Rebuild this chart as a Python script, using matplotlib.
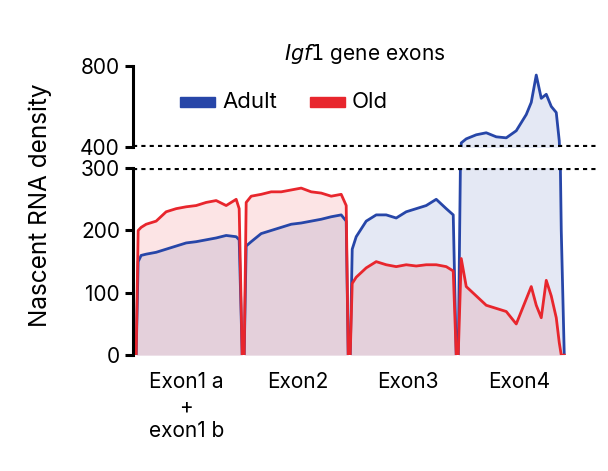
import numpy as np
import matplotlib.pyplot as plt

plt.rcParams["font.family"] = "Inter"

# positions along the gene (arbitrary bp-like units)
pos = [0, 2, 5, 10, 20, 30, 40, 50, 60, 70, 80, 90, 100, 103, 106,
       108, 110, 115, 125, 135, 145, 155, 165, 175, 185, 195, 205, 210, 212,
       214, 216, 220, 230, 240, 250, 260, 270, 280, 290, 300, 310, 317, 320,
       322, 325, 330, 340, 350, 360, 370, 380, 390, 395, 400, 405, 410, 415, 420, 423, 425, 428]
adult = [0, 150, 160, 162, 165, 170, 175, 180, 182, 185, 188, 192, 190, 185, 0,
         0, 175, 182, 195, 200, 205, 210, 212, 215, 218, 222, 225, 215, 0,
         0, 170, 190, 215, 225, 225, 220, 230, 235, 240, 250, 235, 225, 0,
         0, 420, 440, 460, 470, 450, 445, 480, 560, 620, 755, 640, 660, 600, 570, 430, 200, 0]
old = [0, 200, 205, 210, 215, 230, 235, 238, 240, 245, 248, 240, 250, 235, 0,
       0, 245, 255, 258, 262, 262, 265, 268, 262, 260, 255, 258, 240, 0,
       0, 115, 125, 140, 150, 145, 142, 145, 143, 145, 145, 142, 135, 0,
       0, 155, 110, 95, 80, 75, 70, 50, 90, 110, 80, 60, 120, 95, 60, 20, 0, 0]
exon_ticks = [50, 162, 272, 383]
exon_labels = ["Exon1 a\n+\nexon1 b", "Exon2", "Exon3", "Exon4"]

blue = "#2746a8"
red = "#e8262d"
pos = np.array(pos); adult = np.array(adult); old = np.array(old)

fig = plt.figure(figsize=(6.08, 4.71), dpi=100)
ax_top = fig.add_axes([0.219, 0.688, 0.765, 0.172])
ax_bot = fig.add_axes([0.219, 0.246, 0.765, 0.397])

for ax in (ax_top, ax_bot):
    ax.fill_between(pos, adult, color=blue, alpha=0.12, lw=0)
    ax.fill_between(pos, old, color=red, alpha=0.12, lw=0)
    ax.plot(pos, adult, color=blue, lw=2)
    ax.plot(pos, old, color=red, lw=2)
    ax.set_xlim(-3, 462)
    for s in ("top", "right", "bottom"):
        ax.spines[s].set_visible(False)
    ax.spines["left"].set_linewidth(2.2)
    ax.tick_params(axis="y", width=2.2, length=6, labelsize=15)

ax_top.set_ylim(400, 800)
ax_top.set_yticks([400, 800])
ax_top.set_xticks([])
ax_top.axhline(400, color="black", ls=(0, (1.0, 1.0)), lw=3)

ax_bot.set_ylim(0, 300)
ax_bot.set_yticks([0, 100, 200, 300])
ax_bot.axhline(300, color="black", ls=(0, (1.0, 1.0)), lw=3)
ax_bot.set_xticks(exon_ticks)
ax_bot.set_xticklabels(exon_labels, fontsize=15, linespacing=1.3)
ax_bot.tick_params(axis="x", length=0, pad=12)

fig.text(0.066, 0.565, "Nascent RNA density", rotation=90, ha="center",
         va="center", fontsize=17.5)
fig.text(0.6, 0.885, r"$\it{Igf1}$ gene exons", ha="center", va="center",
         fontsize=15)
fig.patches.append(plt.Rectangle((0.296, 0.772), 0.058, 0.022, color=blue,
                                 transform=fig.transFigure))
fig.text(0.366, 0.783, "Adult", va="center", fontsize=16)
fig.patches.append(plt.Rectangle((0.51, 0.772), 0.058, 0.022, color=red,
                                 transform=fig.transFigure))
fig.text(0.578, 0.783, "Old", va="center", fontsize=16)

fig.savefig("out.png", dpi=100)
